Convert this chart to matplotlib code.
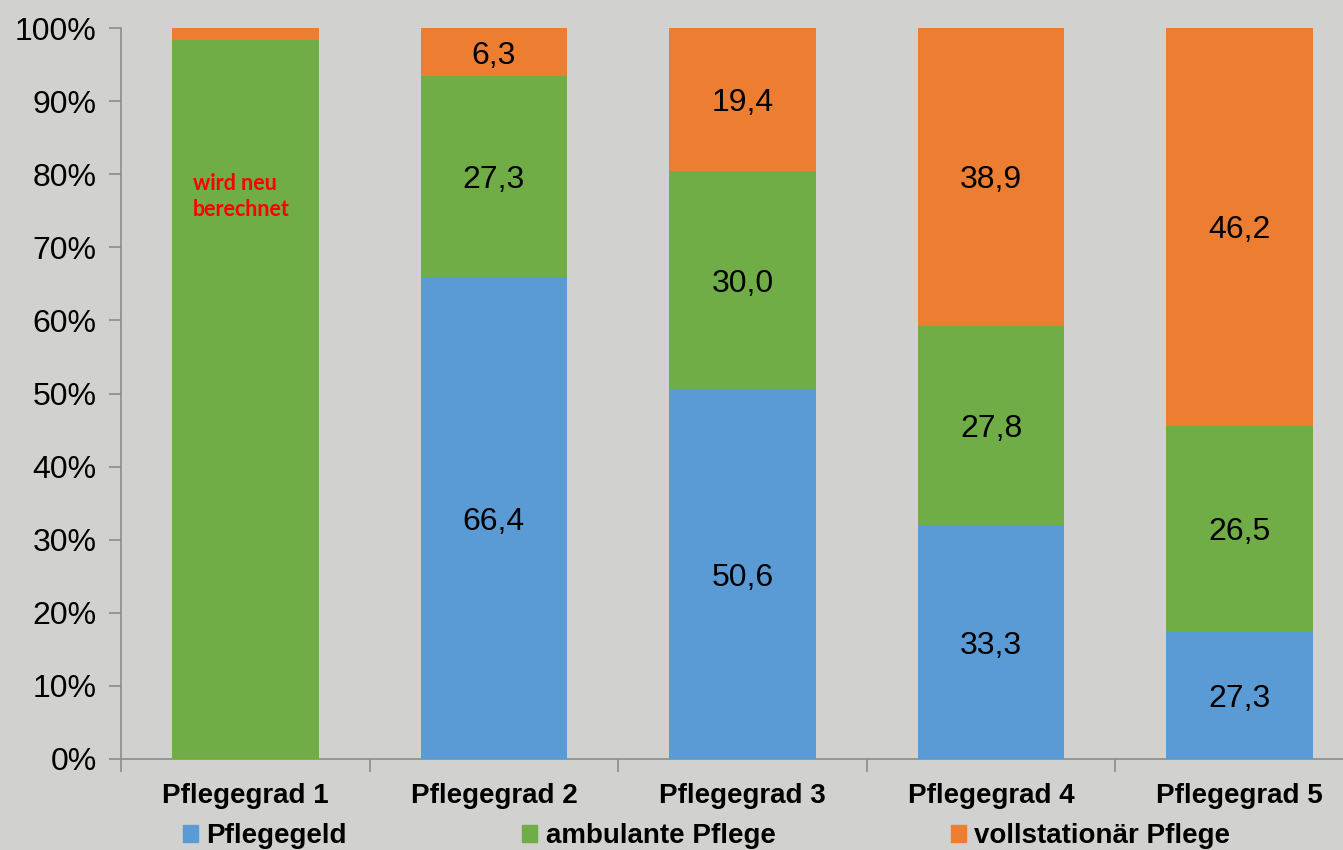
import matplotlib
matplotlib.use("Agg")
import matplotlib.pyplot as plt
import matplotlib.patches as mpatches
import numpy as np

# ── data (bar heights, labels as printed) ───────────────────────────────────
categories = ["Pflegegrad 1", "Pflegegrad 2", "Pflegegrad 3", "Pflegegrad 4", "Pflegegrad 5"]
series_names = ["Pflegegeld", "ambulante Pflege", "vollstationär Pflege"]

pflegegeld = [0.0, 65.9, 50.6, 32.0, 17.5]
ambulant   = [98.3, 27.5, 29.8, 27.3, 28.1]
stationaer = [1.7, 6.6, 19.6, 40.7, 54.4]

labels_pflegegeld = ["", "66,4", "50,6", "33,3", "27,3"]
labels_ambulant   = ["", "27,3", "30,0", "27,8", "26,5"]
labels_stationaer = ["", "6,3", "19,4", "38,9", "46,2"]

note = "wird neu\nberechnet"

# ── style ───────────────────────────────────────────────────────────────────
BLUE   = "#5B9BD5"
GREEN  = "#70AD47"
ORANGE = "#ED7D31"
BG     = "#D1D1CF"
AXIS   = "#8C8C8C"

plt.rcParams.update({
    "font.family": ["Liberation Sans", "DejaVu Sans"],
})

fig = plt.figure(figsize=(13.43, 8.5), dpi=100, facecolor=BG)
ax = fig.add_axes([121 / 1343, 91 / 850, 1243 / 1343, 731 / 850])
ax.set_facecolor(BG)

x = np.arange(len(categories))
width = 0.59
bottom = np.zeros(len(categories))
for vals, labs, color in zip([pflegegeld, ambulant, stationaer],
                             [labels_pflegegeld, labels_ambulant, labels_stationaer],
                             [BLUE, GREEN, ORANGE]):
    vals = np.array(vals)
    ax.bar(x, vals, width, bottom=bottom, color=color, zorder=3)
    for xi, b, v, lab in zip(x, bottom, vals, labs):
        if lab:
            ax.text(xi, b + v / 2, lab, ha="center", va="center_baseline",
                    fontsize=23, color="black", zorder=4)
    bottom += vals

# red note inside the first bar
ax.text(x[0] - 0.21, 77.0, note, ha="left", va="center", fontsize=15.5,
        fontweight="bold", color="#FF0000", family=["Lato", "DejaVu Sans"],
        linespacing=1.3, zorder=4)

ax.set_xlim(-0.5, len(categories) - 0.5)
ax.set_ylim(0, 100)
ax.set_yticks(np.arange(0, 101, 10))
ax.set_yticklabels([f"{v}%" for v in range(0, 101, 10)])
ax.tick_params(axis="y", labelsize=23, length=9, width=1.2, color=AXIS, pad=8.5)

ax.set_xticks(x)
ax.set_xticklabels(categories, fontsize=20, fontweight="bold")
ax.set_xticks(np.arange(-0.5, len(categories), 1), minor=True)
ax.tick_params(axis="x", which="major", length=0, pad=17)
ax.tick_params(axis="x", which="minor", length=9, width=1.2, color=AXIS)

for s in ["top", "right"]:
    ax.spines[s].set_visible(False)
for s in ["left", "bottom"]:
    ax.spines[s].set_color(AXIS)
    ax.spines[s].set_linewidth(1.2)

handles = [mpatches.Patch(color=c, label=n) for c, n in zip([BLUE, GREEN, ORANGE], series_names)]
fig.legend(handles=handles, loc="center left", bbox_to_anchor=(158 / 1343, 14 / 850),
           ncol=3, frameon=False, handlelength=0.55, handleheight=0.55,
           handletextpad=0.3, columnspacing=6.3,
           prop={"size": 20, "weight": "bold", "family": ["Liberation Sans", "DejaVu Sans"]})

fig.savefig("out.png", dpi=100, facecolor=BG)
